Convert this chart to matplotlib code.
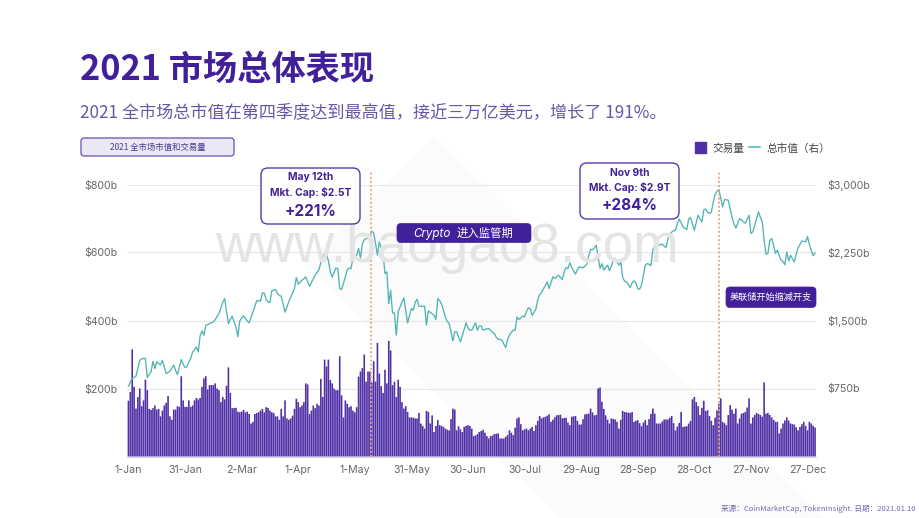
"""
2021 market overview: daily volume bars and total market cap line
"""
import numpy as np
import matplotlib
matplotlib.use("Agg")
import matplotlib.pyplot as plt
from matplotlib.lines import Line2D
from matplotlib.patches import FancyBboxPatch, Patch, Polygon

plt.rcParams["font.family"] = ["Inter", "Noto Sans CJK SC"]

W, H = 920, 518

# daily volume in $b (left axis)
volume = [
    164, 190, 315, 205, 141, 175, 200, 148, 165, 226, 195, 140, 137, 142, 150, 138, 140, 118, 135, 150,
    158, 178, 118, 108, 138, 138, 148, 146, 236, 165, 146, 146, 165, 146, 150, 165, 172, 168, 172, 205,
    230, 236, 197, 210, 210, 210, 215, 200, 195, 160, 175, 168, 208, 262, 187, 142, 143, 143, 132, 130,
    132, 137, 130, 132, 125, 97, 102, 125, 128, 130, 135, 140, 130, 145, 143, 135, 130, 128, 118, 118,
    108, 140, 118, 165, 112, 108, 112, 120, 140, 170, 160, 145, 150, 160, 215, 212, 125, 135, 150, 142,
    155, 150, 228, 175, 285, 265, 285, 225, 215, 200, 195, 195, 295, 180, 115, 165, 155, 145, 148, 135,
    130, 145, 235, 250, 260, 300, 220, 250, 250, 218, 280, 220, 334, 244, 207, 187, 255, 215, 340, 312,
    210, 220, 175, 226, 205, 160, 141, 148, 131, 115, 115, 114, 112, 112, 128, 97, 90, 82, 134, 131,
    97, 121, 72, 90, 107, 92, 90, 87, 82, 79, 77, 110, 141, 138, 77, 89, 80, 72, 87, 90,
    92, 90, 82, 60, 62, 66, 72, 75, 79, 70, 60, 53, 60, 62, 66, 67, 68, 53, 53, 53,
    58, 63, 77, 70, 63, 85, 112, 115, 95, 77, 80, 82, 77, 82, 87, 75, 92, 105, 119, 112,
    115, 117, 120, 124, 102, 108, 115, 121, 122, 123, 112, 113, 114, 100, 92, 117, 118, 119, 105, 94,
    94, 110, 124, 125, 126, 141, 130, 121, 122, 200, 203, 161, 140, 121, 108, 97, 112, 110, 109, 102,
    82, 108, 134, 131, 130, 129, 128, 131, 102, 105, 107, 98, 89, 100, 107, 92, 110, 125, 141, 126,
    97, 97, 97, 103, 109, 109, 109, 114, 119, 98, 77, 88, 99, 131, 87, 88, 89, 97, 105, 168,
    175, 160, 148, 122, 143, 164, 134, 136, 119, 105, 92, 114, 136, 155, 171, 102, 98, 92, 122, 151,
    138, 126, 141, 97, 112, 126, 128, 131, 144, 171, 97, 115, 122, 128, 125, 122, 117, 218, 126, 128,
    122, 115, 108, 102, 102, 68, 82, 97, 106, 115, 106, 97, 95, 94, 86, 77, 87, 95, 102, 90,
    77, 102, 97, 90, 85,
]

# daily total market cap in $b (right axis)
market_cap = [
    776, 820, 860, 872, 885, 970, 1060, 1075, 1082, 1080, 870, 905, 935, 1050, 970, 1045, 1025, 1010, 1062, 990,
    915, 928, 940, 975, 1007, 950, 904, 985, 1070, 1020, 981, 989, 1045, 1080, 1150, 1175, 1209, 1154, 1330, 1386,
    1338, 1448, 1455, 1465, 1475, 1485, 1510, 1545, 1577, 1640, 1700, 1742, 1600, 1467, 1510, 1548, 1485, 1430, 1320, 1496,
    1525, 1551, 1525, 1495, 1474, 1535, 1595, 1660, 1717, 1720, 1713, 1805, 1800, 1735, 1705, 1698, 1827, 1835, 1842, 1800,
    1775, 1768, 1680, 1592, 1650, 1706, 1755, 1805, 1853, 1974, 1900, 1920, 1945, 1960, 1981, 1930, 1878, 1920, 1960, 2000,
    2030, 2062, 2140, 2200, 2239, 2230, 2160, 2040, 1980, 2030, 2080, 2073, 1853, 1842, 1910, 1981, 2060, 2078, 2073, 2184,
    2200, 2220, 2294, 2191, 2340, 2390, 2400, 2411, 2440, 2485, 2467, 2350, 2220, 2367, 2300, 2239, 2018, 2036, 1687, 1834,
    1584, 1584, 1338, 1595, 1650, 1700, 1750, 1610, 1474, 1555, 1632, 1614, 1700, 1735, 1658, 1660, 1655, 1658, 1448, 1606,
    1590, 1575, 1558, 1511, 1742, 1720, 1680, 1614, 1540, 1490, 1467, 1370, 1276, 1375, 1375, 1320, 1265, 1335, 1405, 1474,
    1420, 1393, 1393, 1435, 1474, 1393, 1440, 1440, 1393, 1400, 1408, 1412, 1390, 1370, 1356, 1315, 1295, 1290, 1283, 1240,
    1202, 1290, 1340, 1370, 1393, 1393, 1540, 1511, 1530, 1550, 1540, 1600, 1640, 1632, 1558, 1590, 1625, 1730, 1785, 1805,
    1850, 1885, 1926, 1853, 1915, 1981, 1963, 1980, 2000, 1975, 1952, 2040, 2085, 2073, 2136, 2084, 2045, 2011, 2060, 2092,
    2085, 2080, 2100, 2121, 2210, 2285, 2280, 2300, 2330, 2200, 2073, 2128, 2055, 2085, 2110, 2050, 2100, 2165, 2180, 2145,
    2110, 2147, 1975, 1935, 1926, 1895, 1864, 1915, 1937, 1915, 1850, 1845, 1889, 2000, 2110, 2128, 2120, 2105, 2280, 2320,
    2325, 2330, 2338, 2342, 2320, 2305, 2400, 2450, 2475, 2490, 2496, 2565, 2620, 2575, 2533, 2515, 2503, 2620, 2636, 2560,
    2496, 2580, 2661, 2620, 2588, 2720, 2730, 2695, 2680, 2695, 2800, 2890, 2925, 2945, 2850, 2753, 2834, 2830, 2827, 2730,
    2636, 2570, 2520, 2570, 2625, 2610, 2588, 2572, 2615, 2661, 2459, 2478, 2545, 2625, 2698, 2640, 2588, 2386, 2231, 2240,
    2380, 2405, 2330, 2240, 2275, 2215, 2165, 2150, 2115, 2257, 2158, 2220, 2180, 2147, 2230, 2300, 2340, 2378, 2372, 2367,
    2425, 2340, 2270, 2215, 2246,
]

tick_days = [0, 30, 60, 90, 120, 150, 180, 210, 240, 270, 300, 330, 360]
tick_labels = ["1-Jan", "31-Jan", "2-Mar", "1-Apr", "1-May", "31-May", "30-Jun",
               "30-Jul", "29-Aug", "28-Sep", "28-Oct", "27-Nov", "27-Dec"]
left_ticks = [200, 400, 600, 800]
right_ticks = [750, 1500, 2250, 3000]
event_days = [128.5, 313]

PURPLE = "#42209a"
BAR = "#4f2ea6"
TEAL = "#4fb5b3"
GRID = "#e8e8ea"
TICK = "#666666"
CJK = "Noto Sans CJK SC"


def fx(x):
    return x / W


def fy(y):
    return 1 - y / H


def px_box(fig, x0, y0, x1, y1, fc, ec, lw=1.0, r=6):
    # rounded box given in pixels from the top left corner
    box = FancyBboxPatch((x0 + r, H - y1 + r), x1 - x0 - 2 * r, y1 - y0 - 2 * r,
                         boxstyle=f"round,pad={r},rounding_size={r}",
                         fc=fc, ec=ec, lw=lw, transform=px_trans, zorder=6)
    fig.add_artist(box)


fig = plt.figure(figsize=(W / 100, H / 100), dpi=100, facecolor="white")
px_trans = matplotlib.transforms.Affine2D().scale(1 / W, 1 / H) + fig.transFigure

# faint diamond behind the chart
fig.add_artist(Polygon([(434, H - 136), (835, H - 530), (700, H - 660), (305, H - 262)],
                       fc="#fbfbfc", ec="none", transform=px_trans, zorder=0))

fig.text(fx(447), fy(262), "www.baogao8.com", fontsize=39.5, color="#e4e4e4",
         family="Liberation Sans", ha="center", va="baseline", zorder=1)

ax = fig.add_axes([fx(127.5), fy(456.5), fx(816 - 127.5), 272 / H])
ax.patch.set_alpha(0)
days = np.arange(len(volume))
ax.bar(days, volume, width=0.86, color=BAR, zorder=3, snap=False)
ax.set_xlim(-0.5, len(volume) - 0.5)
ax.set_ylim(0, 800)
ax.set_yticks(left_ticks, [f"${v}b" for v in left_ticks])
ax.set_xticks(tick_days, tick_labels)
ax.tick_params(axis="both", length=0, labelsize=7.6, labelcolor=TICK)
ax.tick_params(axis="x", pad=6)
ax.tick_params(axis="y", pad=7)
ax.grid(axis="y", color=GRID, lw=0.9, zorder=0)
ax.set_axisbelow(True)
for s in ["top", "left", "right"]:
    ax.spines[s].set_visible(False)
ax.spines["bottom"].set_color("#d9d2ee")

ax2 = ax.twinx()
ax2.patch.set_alpha(0)
ax2.plot(days, market_cap, color=TEAL, lw=0.95, zorder=4)
ax2.set_ylim(0, 3000)
ax2.set_yticks(right_ticks, [f"${v:,}b" for v in right_ticks])
ax2.tick_params(axis="y", length=0, labelsize=7.6, labelcolor=TICK, pad=8)
for s in ax2.spines.values():
    s.set_visible(False)

for d in event_days:
    ax2.axvline(d, ymin=0, ymax=1.05, color="#e6a77e", lw=1.3, ls=(0, (1.1, 1.2)),
                clip_on=False, zorder=5)

# title block
fig.text(fx(80), fy(80), "2021 市场总体表现", fontsize=24.7, fontweight="bold",
         color=PURPLE, va="baseline", family=CJK)
fig.text(fx(80), fy(117), "2021 全市场总市值在第四季度达到最高值，接近三万亿美元，增长了 191%。",
         fontsize=12.3, fontweight="light", color="#6a56a8", va="baseline", family=CJK)
px_box(fig, 81, 138, 234, 156, "#ebe8f6", "#6a4fb0", lw=0.9, r=3)
fig.text(fx(157.5), fy(147.5), "2021 全市场市值和交易量", fontsize=6.0, color="#4d3a8c",
         ha="center", va="center", zorder=7, family=CJK)

# legend
handles = [Patch(color=BAR, label="交易量"), Line2D([0], [0], color=TEAL, lw=1.1, label="总市值（右）")]
fig.legend(handles=handles, loc="center right", bbox_to_anchor=(fx(835.5), fy(148)), ncol=2, frameon=False,
           fontsize=7.7, labelcolor="#444444", handlelength=1.0, handleheight=1.2,
           handletextpad=0.6, columnspacing=0.5, borderpad=0)

# callouts
callouts = [
    (261, 168, 360, 224, ["May 12th", "Mkt. Cap: $2.5T", "+221%"]),
    (580, 163, 679, 219, ["Nov 9th", "Mkt. Cap: $2.9T", "+284%"]),
]
for x0, y0, x1, y1, lines in callouts:
    px_box(fig, x0, y0, x1, y1, "white", "#5a3aa8", lw=1.0, r=7)
    xc = (x0 + x1) / 2
    fig.text(fx(xc), fy(y0 + 9.5), lines[0], fontsize=7.4, fontweight="bold", color=PURPLE,
             ha="center", va="center", zorder=7)
    fig.text(fx(xc), fy(y0 + 24.5), lines[1], fontsize=7.4, fontweight="bold", color=PURPLE,
             ha="center", va="center", zorder=7)
    fig.text(fx(xc), fy(y0 + 43), lines[2], fontsize=11, fontweight="bold", color=PURPLE,
             ha="center", va="center", zorder=7)

px_box(fig, 397, 223.5, 531, 242.5, PURPLE, PURPLE, lw=0.5, r=4)
fig.text(fx(413), fy(233.5), "Crypto", fontsize=8.4, style="italic", color="white", va="center", zorder=7)
fig.text(fx(457), fy(233.5), "进入监管期", fontsize=8.2, color="white", va="center", zorder=7, family=CJK)

px_box(fig, 726, 287, 816, 307.5, PURPLE, PURPLE, lw=0.5, r=4)
fig.text(fx(771), fy(297), "美联储开始缩减开支", fontsize=6.6, color="white", ha="center", va="center",
         zorder=7, family=CJK)

fig.text(fx(916), fy(509), "来源：CoinMarketCap, TokenInsight. 日期：2021.01.10", fontsize=5.5,
         color="#7a68b5", ha="right", va="center", family=CJK)

fig.savefig("out.png", dpi=100)
